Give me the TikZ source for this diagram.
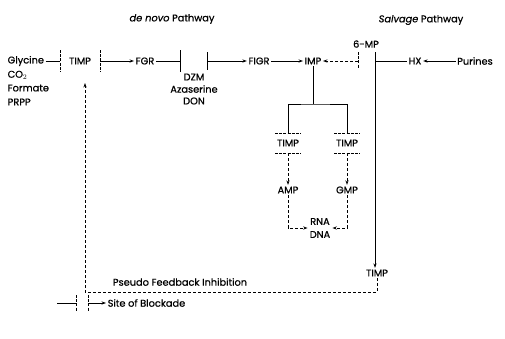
\documentclass[tikz,border=0pt]{standalone}
\usepackage{fontspec}
\setmainfont{Poppins}[FakeBold=0.7]
\usetikzlibrary{arrows.meta}
\tikzset{
  lbl/.style={font=\fontsize{9.8}{12}\selectfont,inner sep=1.5pt},
  flow/.style={-{Stealth[length=4.5pt,width=3.2pt]},line width=0.85pt},
  dflow/.style={flow,dash pattern=on 3pt off 2pt},
  bar/.style={line width=0.85pt},
  dbar/.style={bar,dash pattern=on 3pt off 1.2pt},
}
\begin{document}
\begin{tikzpicture}[x=1pt,y=-1pt,every node/.style={lbl}]
\useasboundingbox (0,0) rectangle (505,338);
% headings
\node (dnovo) at (172,19) {\textit{de novo} Pathway};
\node (salv) at (421,20) {\textit{Salvage} Pathway};
% precursors
\node[anchor=west] (gly) at (6,61) {Glycine};
\node[anchor=west] (co2) at (6,75) {CO$_2$};
\node[anchor=west] (form) at (6,88) {Formate};
\node[anchor=west] (prpp) at (6,102) {PRPP};
% main row
\coordinate (b1) at (60,61);
\coordinate (b2) at (100,61);
\node (timpa) at (80,61) {TIMP};
\node (fgr) at (145,61) {FGR};
\coordinate (b3) at (180,61);
\coordinate (b4) at (207,61);
\node (dzm) at (194,77) {DZM};
\node (aza) at (194,89) {Azaserine};
\node (don) at (194,101) {DON};
\node (figr) at (259,61) {FIGR};
\node (imp) at (313,61) {IMP};
\coordinate (b5) at (358,61);
\coordinate (b6) at (375,61);
\node (mp) at (366,44) {6-MP};
\node (hx) at (415,61) {HX};
\node (pur) at (475,61) {Purines};
% branches
\coordinate (j1) at (313,104);
\coordinate (bl1) at (288,133);
\coordinate (bl2) at (288,153);
\coordinate (br1) at (347,133);
\coordinate (br2) at (347,153);
\node (timpl) at (288,143) {TIMP};
\node (timpr) at (347,143) {TIMP};
\node (amp) at (288,190) {AMP};
\node (gmp) at (347,190) {GMP};
\node[align=center,inner sep=2pt,font=\fontsize{9.8}{13}\selectfont] (rd) at (320,228) {RNA\\DNA};
\node (timpb) at (377,273) {TIMP};
\coordinate (fbc) at (85,292);
\coordinate (fbt) at (85,83);
\node (pfi) at (180,282) {Pseudo Feedback Inhibition};
% blocking bars
\draw[dbar] ([yshift=11pt]b1) -- ([yshift=-11pt]b1);
\draw[dbar] ([yshift=11pt]b2) -- ([yshift=-11pt]b2);
\draw[bar] ([yshift=11pt]b3) -- ([yshift=-11pt]b3);
\draw[bar] ([yshift=9pt]b4) -- ([yshift=-9pt]b4);
\draw[dbar] ([yshift=9pt]b5) -- ([yshift=-7pt]b5);
\draw[dbar] ([xshift=-13pt]bl1) -- ([xshift=13pt]bl1);
\draw[dbar] ([xshift=-13pt]bl2) -- ([xshift=13pt]bl2);
\draw[dbar] ([xshift=-13pt]br1) -- ([xshift=13pt]br1);
\draw[dbar] ([xshift=-13pt]br2) -- ([xshift=13pt]br2);
% de novo pathway
\draw[bar] (gly) -- (b1);
\draw[flow] (b2) -- (fgr);
\draw[bar] (fgr) -- (b3);
\draw[flow] (b4) -- (figr);
\draw[flow] (figr) -- (imp);
\draw[dflow] (b5) -- (imp);
% salvage pathway
\draw[flow] (pur) -- (hx);
\draw[bar] (hx) -- (b6);
\draw[flow] ([yshift=9pt]b6) -- (b6 |- timpb.north);
% IMP branches
\draw[bar] (imp) -- (j1);
\draw[bar] (bl1) |- (j1) -| (br1);
\draw[dflow] (bl2) -- (amp);
\draw[dflow] (br2) -- (gmp);
\draw[dflow] (amp) |- (rd.west);
\draw[dflow] (gmp) |- (rd.east);
% feedback
\draw[dflow] (timpb.south) |- (fbc) -- (fbt);
% legend
\coordinate (la) at (57,303);
\coordinate (lb1) at (76,303);
\coordinate (lb2) at (88,303);
\node[anchor=west] (site) at (106,303) {Site of Blockade};
\draw[bar] (la) -- (lb1);
\draw[dbar] ([yshift=8pt]lb1) -- ([yshift=-8pt]lb1);
\draw[dbar] ([yshift=8pt]lb2) -- ([yshift=-8pt]lb2);
\draw[flow] (lb2) -- (site);
\end{tikzpicture}
\end{document}
